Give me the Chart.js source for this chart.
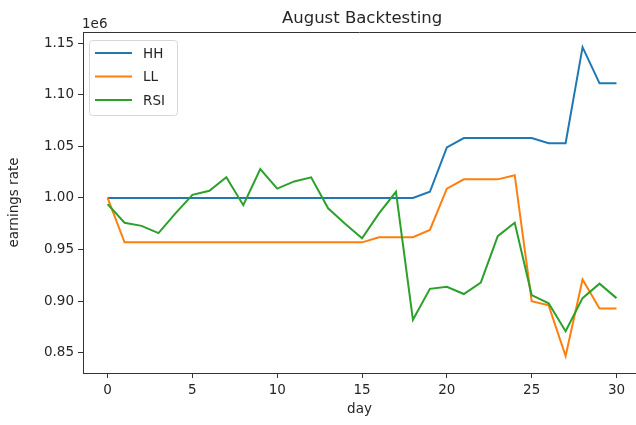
<!DOCTYPE html>
<html>
<head>
<meta charset="utf-8">
<script src="https://cdn.jsdelivr.net/npm/chart.js@4/dist/chart.umd.min.js"></script>
<style>
  body { margin: 0; background: #fff; }
  canvas { display: block; }
</style>
</head>
<body>
<canvas id="chartjs" width="636" height="425"></canvas>
<script>
var days = [0, 1, 2, 3, 4, 5, 6, 7, 8, 9, 10, 11, 12, 13, 14, 15,
  16, 17, 18, 19, 20, 21, 22, 23, 24, 25, 26, 27, 28, 29, 30];

var hhValues = [1000000, 1000000, 1000000, 1000000, 1000000, 1000000, 1000000, 1000000,
  1000000, 1000000, 1000000, 1000000, 1000000, 1000000, 1000000, 1000000,
  1000000, 1000000, 1000000, 1006000, 1049000, 1058000, 1058000, 1058000,
  1058000, 1058000, 1053000, 1053000, 1146000, 1111000, 1111000];

var llValues = [1000000, 957000, 957000, 957000, 957000, 957000, 957000, 957000,
  957000, 957000, 957000, 957000, 957000, 957000, 957000, 957000,
  962000, 962000, 962000, 969000, 1009000, 1018000, 1018000, 1018000,
  1022000, 900000, 896000, 847000, 921000, 893000, 893000];

var rsiValues = [994000, 976000, 973000, 966000, 985000, 1003000, 1007000, 1020000,
  993000, 1028000, 1009000, 1016000, 1020000, 990000, 975000, 961000,
  985000, 1006000, 882000, 912000, 914000, 907000, 918000, 963000,
  976000, 906000, 898000, 871000, 903000, 917000, 903000];

var seriesNames = ["HH", "LL", "RSI"];
var seriesColors = ["#1f77b4", "#ff7f0e", "#2ca02c"];
var yTicks = [850000, 900000, 950000, 1000000, 1050000, 1100000, 1150000];
var chartTitle = "August Backtesting";

var FONT = "'DejaVu Sans', sans-serif";
var INK = "#262626";

function toPoints(values) {
  var pts = [];
  for (let i = 0; i < days.length; i++) {
    pts.push({ x: days[i], y: values[i] });
  }
  return pts;
}

// frame, title, offset text and legend drawn the matplotlib way
var decorPlugin = {
  id: "decor",
  afterDraw: function (chart) {
    var ctx = chart.ctx;
    var area = chart.chartArea;
    ctx.save();
    ctx.strokeStyle = "#333";
    ctx.lineWidth = 1;
    ctx.beginPath();
    ctx.moveTo(area.left, area.top + 0.5);
    ctx.lineTo(area.right, area.top + 0.5);
    ctx.stroke();

    ctx.fillStyle = INK;
    ctx.font = "16.5px " + FONT;
    ctx.textAlign = "center";
    ctx.textBaseline = "alphabetic";
    ctx.fillText(chartTitle, chart.scales.x.getPixelForValue(15), 23);

    ctx.font = "13.5px " + FONT;
    ctx.textAlign = "left";
    ctx.fillText("1e6", area.left - 1, 28);

    // legend box
    var bx = 89, by = 40, bw = 88, bh = 75;
    ctx.fillStyle = "rgba(255,255,255,0.8)";
    ctx.strokeStyle = "#d6d6d6";
    ctx.lineWidth = 1;
    ctx.beginPath();
    ctx.roundRect(bx + 0.5, by + 0.5, bw, bh, 3);
    ctx.fill();
    ctx.stroke();
    ctx.textBaseline = "middle";
    ctx.font = "13.5px " + FONT;
    for (let i = 0; i < seriesNames.length; i++) {
      var ly = 53 + i * 23.5;
      ctx.strokeStyle = seriesColors[i];
      ctx.lineWidth = 2;
      ctx.beginPath();
      ctx.moveTo(95, ly);
      ctx.lineTo(132, ly);
      ctx.stroke();
      ctx.fillStyle = INK;
      ctx.fillText(seriesNames[i], 143, ly + 1);
    }
    ctx.restore();
  }
};

var allValues = [hhValues, llValues, rsiValues];
var datasets = [];
for (let i = 0; i < seriesNames.length; i++) {
  datasets.push({
    label: seriesNames[i],
    data: toPoints(allValues[i]),
    borderColor: seriesColors[i],
    backgroundColor: seriesColors[i],
    borderWidth: 2,
    pointRadius: 0,
    tension: 0,
    fill: false,
    order: seriesNames.length - i
  });
}

let ctx0 = document.getElementById("chartjs");
var myChart = new Chart(ctx0, {
  type: "line",
  data: { datasets: datasets },
  options: {
    responsive: false,
    animation: false,
    devicePixelRatio: 1,
    layout: { padding: { top: 32, right: 0, left: 0, bottom: 0 } },
    plugins: {
      legend: { display: false },
      title: { display: false },
      tooltip: { enabled: false }
    },
    scales: {
      x: {
        type: "linear",
        min: -1.45,
        max: 31.15,
        afterFit: function (scale) { scale.height = 52; },
        border: { display: true, color: "#333", width: 1 },
        grid: { display: true, drawOnChartArea: false, drawTicks: true, tickLength: 5, tickColor: "#333" },
        ticks: {
          stepSize: 5,
          includeBounds: false,
          padding: 4,
          color: INK,
          font: { family: FONT, size: 13.5 },
          maxRotation: 0
        },
        title: {
          display: true,
          text: "day",
          color: INK,
          font: { family: FONT, size: 13.5 },
          padding: { top: 0, bottom: 7 }
        }
      },
      y: {
        type: "linear",
        min: 830500,
        max: 1160700,
        afterFit: function (scale) { scale.width = 83; },
        afterBuildTicks: function (scale) {
          scale.ticks = yTicks.map(function (v) { return { value: v }; });
        },
        border: { display: true, color: "#333", width: 1 },
        grid: { display: true, drawOnChartArea: false, drawTicks: true, tickLength: 5, tickColor: "#333" },
        ticks: {
          padding: 4,
          color: INK,
          font: { family: FONT, size: 13.5 },
          callback: function (v) { return (v / 1e6).toFixed(2); }
        },
        title: {
          display: true,
          text: "earnings rate",
          color: INK,
          font: { family: FONT, size: 13.5 },
          padding: { top: 6, bottom: 0 }
        }
      }
    }
  },
  plugins: [decorPlugin]
});
</script>
</body>
</html>
